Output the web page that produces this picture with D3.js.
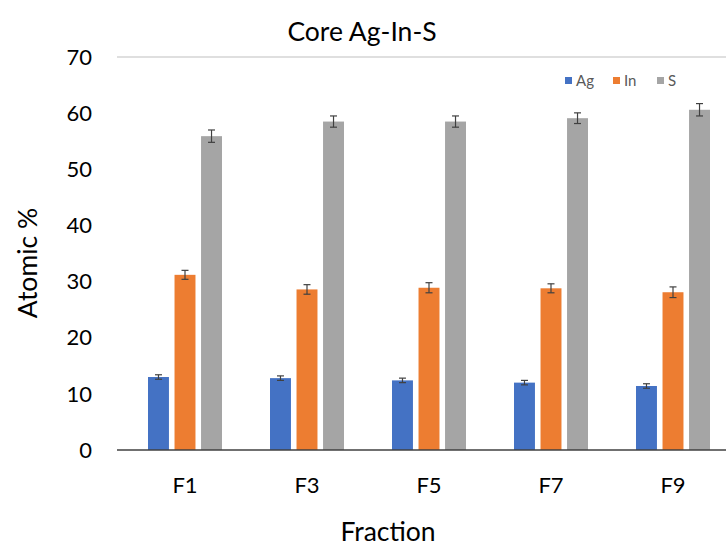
<html>
  <head>
    <meta charset="UTF-8" />
    <script src="https://cdnjs.cloudflare.com/ajax/libs/d3/7.8.5/d3.min.js"></script>
    <style>
      body { margin: 0; background: #fff; }
      text { font-family: Lato, "Open Sans", sans-serif; }
    </style>
  </head>
  <body>
    <svg id="chart" width="726" height="546"></svg>
    <script>
      var fractions = ["F1", "F3", "F5", "F7", "F9"];
      var elements = ["Ag", "In", "S"];
      var agValues = [13.0, 12.8, 12.4, 12.0, 11.4];
      var inValues = [31.2, 28.6, 28.9, 28.8, 28.1];
      var sValues = [55.9, 58.5, 58.5, 59.1, 60.6];
      var agErr = [0.4, 0.4, 0.4, 0.4, 0.4];
      var inErr = [0.8, 0.85, 0.9, 0.8, 0.95];
      var sErr = [1.1, 1.0, 1.0, 0.95, 1.1];
      var yTicks = [0, 10, 20, 30, 40, 50, 60, 70];
      var colors = ["#4472C4", "#ED7D31", "#A5A5A5"];

      var rows = [];
      fractions.forEach((f, i) => {
        rows.push({ f: f, el: "Ag", v: agValues[i], e: agErr[i] });
        rows.push({ f: f, el: "In", v: inValues[i], e: inErr[i] });
        rows.push({ f: f, el: "S", v: sValues[i], e: sErr[i] });
      });

      var svg = d3.select("#chart");

      var x0 = d3.scaleBand().domain(fractions).range([124, 734]);
      var x1 = d3
        .scaleBand()
        .domain(elements)
        .range([0, 74])
        .paddingInner(0.21);
      var y = d3.scaleLinear().domain([0, 70]).range([450, 57]);
      var color = d3.scaleOrdinal().domain(elements).range(colors);

      // top line
      svg
        .append("line")
        .attr("x1", 117)
        .attr("x2", 726)
        .attr("y1", y(70))
        .attr("y2", y(70))
        .style("stroke", "#bfbfbf")
        .style("stroke-width", 1);

      var groupOff = d => x0(d.f) + x0.bandwidth() / 2 - 37 + x1(d.el);

      svg
        .selectAll(".bar")
        .data(rows)
        .enter()
        .append("rect")
        .attr("class", "bar")
        .attr("x", groupOff)
        .attr("width", x1.bandwidth())
        .attr("y", d => y(d.v))
        .attr("height", d => y(0) - y(d.v))
        .style("fill", d => color(d.el));

      // error bars
      var eb = svg
        .selectAll(".err")
        .data(rows)
        .enter()
        .append("g")
        .attr("class", "err")
        .style("stroke", "#404040")
        .style("stroke-width", 1.2);
      eb.append("line")
        .attr("x1", d => groupOff(d) + x1.bandwidth() / 2)
        .attr("x2", d => groupOff(d) + x1.bandwidth() / 2)
        .attr("y1", d => y(d.v + d.e))
        .attr("y2", d => y(d.v - d.e));
      [1, -1].forEach(s => {
        eb.append("line")
          .attr("x1", d => groupOff(d) + x1.bandwidth() / 2 - 3.5)
          .attr("x2", d => groupOff(d) + x1.bandwidth() / 2 + 3.5)
          .attr("y1", d => y(d.v + s * d.e))
          .attr("y2", d => y(d.v + s * d.e));
      });

      // x axis line
      svg
        .append("line")
        .attr("x1", 117)
        .attr("x2", 726)
        .attr("y1", y(0))
        .attr("y2", y(0))
        .style("stroke", "#404040")
        .style("stroke-width", 1.5);

      // y tick labels
      svg
        .selectAll(".ytick")
        .data(yTicks)
        .enter()
        .append("text")
        .attr("class", "ytick")
        .attr("x", 92)
        .attr("y", d => y(d))
        .attr("dy", "0.35em")
        .attr("text-anchor", "end")
        .style("font-size", "22px")
        .style("fill", "#000")
        .text(d => d);

      // x labels
      svg
        .selectAll(".xtick")
        .data(fractions)
        .enter()
        .append("text")
        .attr("class", "xtick")
        .attr("x", d => x0(d) + x0.bandwidth() / 2)
        .attr("y", 485)
        .attr("dy", "0.35em")
        .attr("text-anchor", "middle")
        .style("font-size", "22px")
        .style("fill", "#000")
        .text(d => d);

      svg
        .append("text")
        .attr("x", 362)
        .attr("y", 41)
        .attr("text-anchor", "middle")
        .style("font-size", "26.5px")
        .style("fill", "#000")
        .text("Core Ag-In-S");

      svg
        .append("text")
        .attr("x", 388)
        .attr("y", 541)
        .attr("text-anchor", "middle")
        .style("font-size", "26.5px")
        .style("fill", "#000")
        .text("Fraction");

      svg
        .append("text")
        .attr("transform", "translate(37,263) rotate(-90)")
        .attr("text-anchor", "middle")
        .style("font-size", "26.5px")
        .style("fill", "#000")
        .text("Atomic %");

      // legend
      var legX = [565, 613, 657];
      var leg = svg
        .selectAll(".leg")
        .data(elements)
        .enter()
        .append("g")
        .attr("class", "leg")
        .attr("transform", (d, i) => `translate(${legX[i]}, 77)`);
      leg.append("rect")
        .attr("width", 7)
        .attr("height", 7)
        .style("fill", d => color(d));
      leg.append("text")
        .attr("x", 11)
        .attr("y", 4)
        .attr("dy", "0.35em")
        .style("font-size", "15px")
        .style("fill", "#595959")
        .text(d => d);
    </script>
  </body>
</html>
